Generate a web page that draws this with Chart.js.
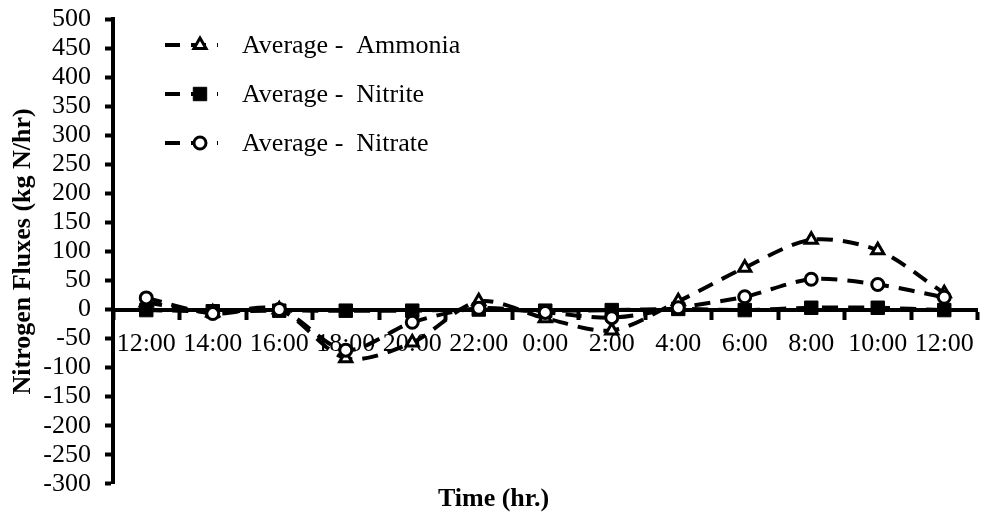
<!DOCTYPE html>
<html>
<head>
<meta charset="utf-8">
<script src="https://cdn.jsdelivr.net/npm/chart.js@4.4.1/dist/chart.umd.min.js"></script>
<style>
  html, body { margin: 0; padding: 0; background: #fff; }
  #wrap { width: 988px; height: 517px; }
</style>
</head>
<body>
<div id="wrap"><canvas id="c" width="988" height="517"></canvas></div>
<script>
// ---- data ----
const categories = ["12:00", "14:00", "16:00", "18:00", "20:00", "22:00", "0:00", "2:00", "4:00", "6:00", "8:00", "10:00", "12:00"];
const ammonia = [12, -5, 0, -84, -57, 14, -15, -36, 14, 72, 120, 102, 28];
const nitrite = [-1, -3, -2, -2, -2, 0, -2, -1, 1, -1, 3, 3, -1];
const nitrate = [20, -7, 0, -70, -22, 2, -5, -14, 3, 22, 52, 43, 21];
const seriesNames = ["Average -  Ammonia", "Average -  Nitrite", "Average -  Nitrate"];
const yMin = -300, yMax = 500, yStep = 50;

const FONT = '"Liberation Serif", "Times New Roman", serif';
const DASH = [16, 10];

const legendPlugin = {
  id: 'customLegend',
  afterDatasetsDraw(chart) {
    const ctx = chart.ctx;
    const rows = [45, 94, 143];
    chart.data.datasets.forEach((ds, i) => {
      const y = rows[i];
      ctx.save();
      ctx.strokeStyle = '#000';
      ctx.lineWidth = 4;
      ctx.setLineDash([15, 11]);
      ctx.beginPath();
      ctx.moveTo(165, y);
      ctx.lineTo(218, y);
      ctx.stroke();
      ctx.setLineDash([]);
      ctx.fillStyle = ds.pointBackgroundColor;
      ctx.strokeStyle = '#000';
      ctx.lineWidth = ds.pointBorderWidth;
      Chart.helpers.drawPoint(ctx, {
        pointStyle: ds.pointStyle,
        radius: ds.pointRadius,
        rotation: 0,
        borderWidth: ds.pointBorderWidth
      }, 200, y);
      ctx.fillStyle = '#000';
      ctx.font = '26px ' + FONT;
      ctx.textBaseline = 'middle';
      ctx.textAlign = 'left';
      ctx.fillText(seriesNames[i], 242, y + 1);
      ctx.restore();
    });
  }
};

new Chart(document.getElementById('c'), {
  type: 'line',
  data: {
    labels: categories,
    datasets: [
      {
        label: seriesNames[0], data: ammonia, order: 3,
        borderColor: '#000', borderWidth: 4, borderDash: DASH, tension: 0.3,
        pointStyle: 'triangle', pointRadius: 7, pointBorderWidth: 3,
        pointBackgroundColor: '#fff', pointBorderColor: '#000'
      },
      {
        label: seriesNames[1], data: nitrite, order: 2,
        borderColor: '#000', borderWidth: 4, borderDash: DASH, tension: 0.3,
        pointStyle: 'rect', pointRadius: 9.5, pointBorderWidth: 1,
        pointBackgroundColor: '#000', pointBorderColor: '#000'
      },
      {
        label: seriesNames[2], data: nitrate, order: 1,
        borderColor: '#000', borderWidth: 4, borderDash: DASH, tension: 0.3,
        pointStyle: 'circle', pointRadius: 6, pointBorderWidth: 3,
        pointBackgroundColor: '#fff', pointBorderColor: '#000'
      }
    ]
  },
  options: {
    responsive: false,
    animation: false,
    layout: { padding: { top: 19, right: 1, left: 0, bottom: 0 } },
    plugins: {
      legend: { display: false },
      tooltip: { enabled: false },
      title: {
        display: true, position: 'bottom', text: 'Time (hr.)', color: '#000',
        font: { family: FONT, size: 26, weight: 'bold' },
        padding: { top: 0, bottom: 2 }
      }
    },
    scales: {
      x: {
        position: { y: 0 },
        offset: true,
        grid: {
          offset: true, drawOnChartArea: false, drawTicks: true,
          tickLength: 8, tickWidth: 4, tickColor: '#000', color: '#000'
        },
        border: { display: true, color: '#000', width: 4 },
        ticks: {
          color: '#000', font: { family: FONT, size: 26 }, padding: 11,
          maxRotation: 0, autoSkip: false
        }
      },
      y: {
        min: yMin, max: yMax,
        afterFit(scale) { scale.width = 113; scale.paddingTop = 0; scale.paddingBottom = 0; },
        grid: {
          drawOnChartArea: false, drawTicks: true,
          tickLength: 8, tickWidth: 4, tickColor: '#000', color: '#000'
        },
        border: { display: true, color: '#000', width: 4 },
        ticks: {
          stepSize: yStep, autoSkip: false, color: '#000',
          font: { family: FONT, size: 26 }, padding: 14
        },
        title: {
          display: true, text: 'Nitrogen Fluxes (kg N/hr)', color: '#000',
          font: { family: FONT, size: 26, weight: 'bold' },
          padding: { top: 8, bottom: 0 }
        }
      }
    }
  },
  plugins: [legendPlugin]
});
</script>
</body>
</html>
